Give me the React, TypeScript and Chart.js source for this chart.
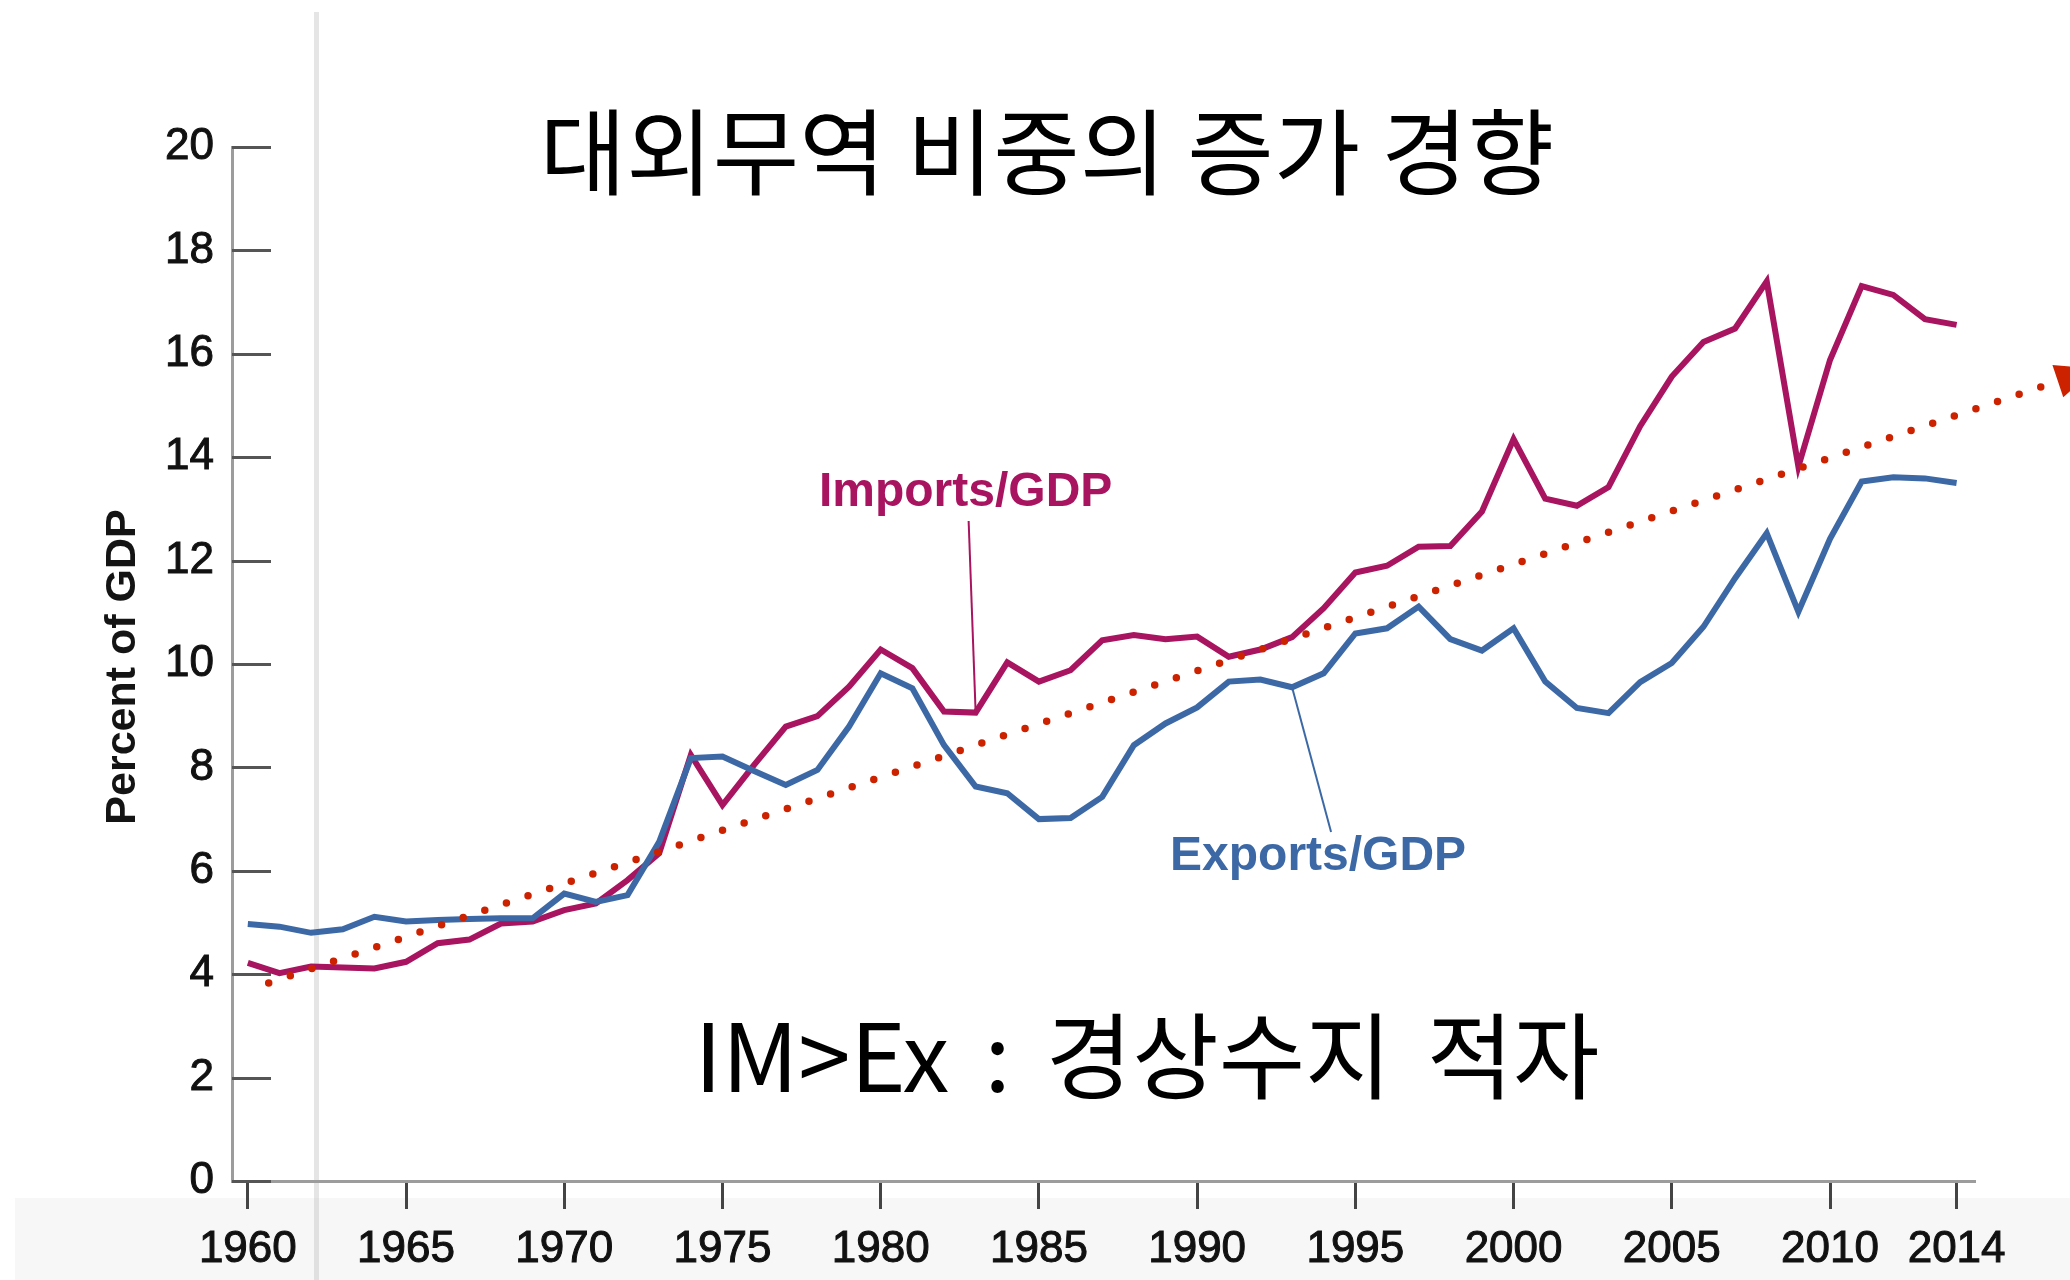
import React, { useEffect, useRef } from 'react';
import { Chart, registerables } from 'chart.js';

Chart.register(...registerables);

// ---------- data ----------
const years = [
  1960, 1961, 1962, 1963, 1964, 1965, 1966, 1967, 1968, 1969,
  1970, 1971, 1972, 1973, 1974, 1975, 1976, 1977, 1978, 1979,
  1980, 1981, 1982, 1983, 1984, 1985, 1986, 1987, 1988, 1989,
  1990, 1991, 1992, 1993, 1994, 1995, 1996, 1997, 1998, 1999,
  2000, 2001, 2002, 2003, 2004, 2005, 2006, 2007, 2008, 2009,
  2010, 2011, 2012, 2013, 2014,
];

const importsGDP = [
  4.22, 4.02, 4.15, 4.13, 4.11, 4.24, 4.6, 4.67, 4.98, 5.02,
  5.24, 5.37, 5.82, 6.34, 8.24, 7.27, 8.05, 8.79, 8.99, 9.56,
  10.28, 9.92, 9.08, 9.06, 10.03, 9.66, 9.88, 10.46, 10.56, 10.48,
  10.53, 10.14, 10.28, 10.52, 11.08, 11.77, 11.9, 12.27, 12.28, 12.95,
  14.35, 13.2, 13.06, 13.42, 14.6, 15.56, 16.23, 16.49, 17.4, 13.82,
  15.88, 17.31, 17.14, 16.67, 16.56,
];

const exportsGDP = [
  4.97, 4.92, 4.8, 4.87, 5.11, 5.02, 5.05, 5.07, 5.08, 5.08,
  5.56, 5.4, 5.53, 6.56, 8.18, 8.21, 7.93, 7.66, 7.95, 8.79,
  9.82, 9.53, 8.43, 7.63, 7.5, 7.0, 7.02, 7.43, 8.43, 8.85,
  9.16, 9.66, 9.7, 9.55, 9.82, 10.59, 10.69, 11.11, 10.48, 10.26,
  10.69, 9.66, 9.15, 9.05, 9.65, 10.02, 10.72, 11.66, 12.53, 11.01,
  12.42, 13.53, 13.61, 13.59, 13.5,
];

const trendYears = [1960.66, 2017.2];
const trendValues = [3.83, 15.47];

const xTickValues = [1960, 1965, 1970, 1975, 1980, 1985, 1990, 1995, 2000, 2005, 2010, 2014];
const xTickLabels = ['1960', '1965', '1970', '1975', '1980', '1985', '1990', '1995', '2000', '2005', '2010', '2014'];
const yTickValues = [0, 2, 4, 6, 8, 10, 12, 14, 16, 18, 20];

const titleText = '대외무역 비중의 증가 경향';
const noteText = 'IM>Ex : 경상수지 적자';
const yAxisTitle = 'Percent of GDP';
const importsLabel = 'Imports/GDP';
const exportsLabel = 'Exports/GDP';
const importsLabelYear = 1983;
const exportsLabelYear = 1993;

// ---------- styles ----------
const IMPORT_COLOR = '#a8145f';
const EXPORT_COLOR = '#3c69a5';
const TREND_COLOR = '#cc2200';
const AXIS_FONT = '"Liberation Sans", Arial, Helvetica, sans-serif';
const CJK_FONT = '"Noto Sans CJK KR", "Noto Sans", sans-serif';

const decorPlugin = {
  id: 'decor',
  beforeDraw(chart: any) {
    const { ctx } = chart;
    ctx.save();
    ctx.fillStyle = '#ffffff';
    ctx.fillRect(0, 0, chart.width, chart.height);
    ctx.fillStyle = '#f7f7f7';
    ctx.fillRect(15, 1198, chart.width - 15, chart.height - 1198);
    ctx.fillStyle = 'rgba(190,190,190,0.4)';
    ctx.fillRect(314, 12, 5, chart.height - 12);
    ctx.restore();
  },
  afterDatasetsDraw(chart: any) {
    const { ctx, scales } = chart;
    const xs = scales.x;
    const ys = scales.y;
    ctx.save();

    // inward y ticks
    ctx.strokeStyle = '#555555';
    ctx.lineWidth = 3;
    yTickValues.forEach((v) => {
      const y = Math.round(ys.getPixelForValue(v)) + 0.5;
      ctx.beginPath();
      ctx.moveTo(ys.right, y);
      ctx.lineTo(ys.right + 39, y);
      ctx.stroke();
    });

    // arrow head on trend line
    const p0x = xs.getPixelForValue(trendYears[0]);
    const p0y = ys.getPixelForValue(trendValues[0]);
    const p1x = xs.getPixelForValue(trendYears[1]);
    const p1y = ys.getPixelForValue(trendValues[1]);
    const len = Math.hypot(p1x - p0x, p1y - p0y);
    const dx = (p1x - p0x) / len;
    const dy = (p1y - p0y) / len;
    const px = -dy;
    const py = dx;
    ctx.fillStyle = TREND_COLOR;
    ctx.beginPath();
    ctx.moveTo(p1x + px * 17, p1y + py * 17);
    ctx.lineTo(p1x + dx * 40, p1y + dy * 40);
    ctx.lineTo(p1x - px * 17, p1y - py * 17);
    ctx.closePath();
    ctx.fill();

    // leader lines
    const iIdx = years.indexOf(importsLabelYear);
    const ix = xs.getPixelForValue(importsLabelYear);
    const iy = ys.getPixelForValue(importsGDP[iIdx]);
    ctx.strokeStyle = IMPORT_COLOR;
    ctx.lineWidth = 2;
    ctx.beginPath();
    ctx.moveTo(ix - 7, 521);
    ctx.lineTo(ix, iy);
    ctx.stroke();

    const eIdx = years.indexOf(exportsLabelYear);
    const ex = xs.getPixelForValue(exportsLabelYear);
    const ey = ys.getPixelForValue(exportsGDP[eIdx]);
    ctx.strokeStyle = EXPORT_COLOR;
    ctx.beginPath();
    ctx.moveTo(ex, ey);
    ctx.lineTo(ex + 39, 832);
    ctx.stroke();

    ctx.restore();
  },
  afterDraw(chart: any) {
    const { ctx, scales } = chart;
    const xs = scales.x;
    ctx.save();

    // series labels
    ctx.textAlign = 'center';
    ctx.textBaseline = 'alphabetic';
    ctx.font = `bold 48px ${AXIS_FONT}`;
    ctx.fillStyle = IMPORT_COLOR;
    ctx.fillText(importsLabel, xs.getPixelForValue(importsLabelYear) - 10, 506);
    ctx.fillStyle = EXPORT_COLOR;
    ctx.fillText(exportsLabel, xs.getPixelForValue(exportsLabelYear) + 26, 870);

    // y axis title
    ctx.save();
    ctx.translate(123, 667);
    ctx.rotate(-Math.PI / 2);
    ctx.font = `bold 43px ${AXIS_FONT}`;
    ctx.fillStyle = '#141414';
    ctx.textBaseline = 'middle';
    ctx.fillText(yAxisTitle, 0, 0);
    ctx.restore();

    // annotations
    ctx.fillStyle = '#000000';
    ctx.textBaseline = 'middle';
    ctx.font = `400 94px ${CJK_FONT}`;
    ctx.fillText(titleText, 1047, 152);
    ctx.font = `400 94px ${CJK_FONT}`;
    try {
      (ctx as any).wordSpacing = '14px';
    } catch (e) {
      // ignore
    }
    ctx.fillText(noteText, 1147, 1056);
    try {
      (ctx as any).wordSpacing = '0px';
    } catch (e) {
      // ignore
    }

    ctx.restore();
  },
};

export default function App() {
  const ref = useRef<HTMLCanvasElement>(null);

  useEffect(() => {
    const canvas = ref.current;
    if (!canvas) return;
    const chart = new Chart(canvas, {
      type: 'line',
      data: {
        datasets: [
          {
            label: 'Trend',
            data: trendYears.map((x, i) => ({ x, y: trendValues[i] })),
            borderColor: TREND_COLOR,
            borderWidth: 7.5,
            borderDash: [0, 22.8],
            borderCapStyle: 'round',
            pointRadius: 0,
            fill: false,
            clip: false,
          } as any,
          {
            label: exportsLabel,
            data: years.map((x, i) => ({ x, y: exportsGDP[i] })),
            borderColor: EXPORT_COLOR,
            borderWidth: 6,
            pointRadius: 0,
            tension: 0,
            fill: false,
          },
          {
            label: importsLabel,
            data: years.map((x, i) => ({ x, y: importsGDP[i] })),
            borderColor: IMPORT_COLOR,
            borderWidth: 6,
            pointRadius: 0,
            tension: 0,
            fill: false,
          },
        ],
      },
      options: {
        responsive: false,
        devicePixelRatio: 1,
        animation: false,
        events: [],
        layout: { padding: { left: 0, top: 147, right: 96, bottom: 0 } },
        plugins: {
          legend: { display: false },
          tooltip: { enabled: false },
          title: { display: false },
        },
        scales: {
          x: {
            type: 'linear',
            min: 1959.5,
            max: 2014.55,
            afterBuildTicks: (scale: any) => {
              scale.ticks = xTickValues.map((value) => ({ value }));
            },
            afterFit: (scale: any) => {
              scale.height = 99;
            },
            grid: {
              display: true,
              drawOnChartArea: false,
              drawTicks: true,
              tickLength: 28,
              tickColor: '#444444',
              tickWidth: 3,
              color: '#444444',
              lineWidth: 3,
            },
            border: { display: true, color: '#9c9c9c', width: 3 },
            ticks: {
              autoSkip: false,
              maxRotation: 0,
              padding: 14,
              color: '#111111',
              textStrokeColor: '#111111',
              textStrokeWidth: 1,
              font: { family: AXIS_FONT, size: 44 },
              callback: (value: any) => {
                const i = xTickValues.indexOf(Number(value));
                return i >= 0 ? xTickLabels[i] : '';
              },
            },
          },
          y: {
            type: 'linear',
            min: 0,
            max: 20,
            afterBuildTicks: (scale: any) => {
              scale.ticks = yTickValues.map((value) => ({ value }));
            },
            afterFit: (scale: any) => {
              scale.width = 232;
            },
            grid: { display: false, drawTicks: false },
            border: { display: true, color: '#9c9c9c', width: 3 },
            ticks: {
              padding: 18,
              color: '#111111',
              textStrokeColor: '#111111',
              textStrokeWidth: 1,
              font: { family: AXIS_FONT, size: 44 },
            },
          },
        },
      },
      plugins: [decorPlugin],
    } as any);
    return () => chart.destroy();
  }, []);

  return (
    <div style={{ position: 'fixed', left: 0, top: 0, width: 2070, height: 1280, background: '#ffffff' }}>
      <canvas ref={ref} width={2070} height={1280} style={{ display: 'block', width: 2070, height: 1280 }} />
    </div>
  );
}
